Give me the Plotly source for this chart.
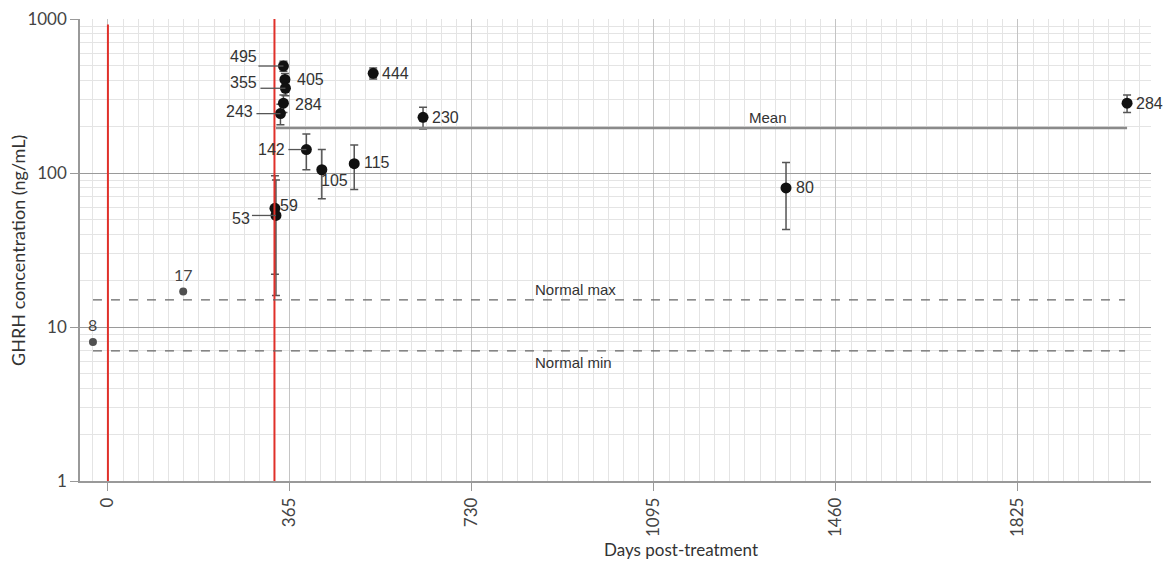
import math
import plotly.graph_objects as go

# ---- data ----
days = [335, 337, 346, 352, 352, 355, 356, 398, 429, 494, 532, 632, 1360, 2044]
ghrh = [59, 53, 243, 284, 495, 405, 355, 142, 105, 115, 444, 230, 80, 284]
ghrh_sd = [37] * len(ghrh)
labels = [str(v) for v in ghrh]

pre_days = [-30, 151]
pre_ghrh = [8, 17]
pre_labels = ["8", "17"]

mean_value = 196
mean_span = [337, 2044]
normal_max = 15
normal_min = 7
normal_span = [-30, 2040]
treatment_days = [0, 334]
treatment_top = [920, 1000]

x_ticks = [0, 365, 730, 1095, 1460, 1825]
y_ticks = [1, 10, 100, 1000]
y_minor = [m * 10 ** e for e in range(3) for m in range(2, 10)]

# ---- style: label offsets (pixels) and leader lines ----
# (xshift, yshift, xanchor, leader length in px or 0)
label_style = {
    0: (3, 3, "left", 0),       # 59
    1: (-24, -3, "right", 24),  # 53
    2: (-25, 2, "right", 24),   # 243
    3: (10, -1, "left", 0),     # 284
    4: (-24, 10, "right", 25),  # 495
    5: (10, 0, "left", 0),      # 405
    6: (-26, 6, "right", 25),   # 355
    7: (-19, 0, "right", 18),   # 142
    8: (-3, -11, "left", 0),    # 105
    9: (8, 1, "left", 0),       # 115
    10: (7, 0, "left", 0),      # 444
    11: (7, 0, "left", 0),      # 230
    12: (8, 0, "left", 0),      # 80
    13: (7, 0, "left", 0),      # 284
}

label_font = dict(family="Liberation Sans, Arial, sans-serif", size=16, color="#333")
small_label_font = dict(family="Liberation Sans, Arial, sans-serif", size=15, color="#333")
tick_font = dict(family="Lato, sans-serif", size=17, color="#444")
pre_font = dict(family="Lato, sans-serif", size=16, color="#444")
ytitle_font = dict(family="Lato, sans-serif", size=18, color="#333")
xtitle_font = dict(family="Lato, sans-serif", size=17, color="#333")

L = math.log10  # annotations on a log axis take log10 positions

fig = go.Figure()

fig.add_trace(go.Scatter(
    x=pre_days, y=pre_ghrh, mode="markers",
    marker=dict(size=8, color="#505050"),
    showlegend=False, hoverinfo="skip",
))

fig.add_trace(go.Scatter(
    x=days, y=ghrh, mode="markers",
    marker=dict(size=11, color="#111"),
    error_y=dict(type="data", array=ghrh_sd, color="#555", thickness=1.5, width=4),
    showlegend=False,
))

shapes = []
for d, top in zip(treatment_days, treatment_top):
    shapes.append(dict(type="line", xref="x", yref="y", x0=d, x1=d, y0=1, y1=top,
                       line=dict(color="#e0302a", width=2), layer="above"))
shapes.append(dict(type="line", xref="x", yref="y", x0=mean_span[0], x1=mean_span[1],
                   y0=mean_value, y1=mean_value, line=dict(color="#8a8a8a", width=2.5)))
for v in (normal_max, normal_min):
    shapes.append(dict(type="line", xref="x", yref="y", x0=normal_span[0], x1=normal_span[1],
                       y0=v, y1=v, line=dict(color="#666", width=1.2, dash="dash")))
for i, (xs, ys, xa, lead) in label_style.items():
    if lead:
        shapes.append(dict(type="line", xref="x", yref="y", xsizemode="pixel",
                           xanchor=days[i], x0=-lead, x1=0, y0=ghrh[i], y1=ghrh[i],
                           line=dict(color="#555", width=1.3)))

annotations = []
for i, (xs, ys, xa, lead) in label_style.items():
    annotations.append(dict(x=days[i], y=L(ghrh[i]), xref="x", yref="y", text=labels[i],
                            showarrow=False, xanchor=xa, yanchor="middle",
                            xshift=xs, yshift=ys, font=label_font))
for d, v, t in zip(pre_days, pre_ghrh, pre_labels):
    annotations.append(dict(x=d, y=L(v), xref="x", yref="y", text=t, showarrow=False,
                            xanchor="center", yanchor="middle", yshift=17, font=pre_font))
annotations.append(dict(x=1324, y=L(mean_value), xref="x", yref="y", text="Mean", showarrow=False,
                        yanchor="bottom", yshift=0, font=small_label_font))
annotations.append(dict(x=937, y=L(normal_max), xref="x", yref="y", text="Normal max", showarrow=False,
                        yanchor="bottom", yshift=0, font=small_label_font))
annotations.append(dict(x=933, y=L(normal_min), xref="x", yref="y", text="Normal min", showarrow=False,
                        yanchor="top", yshift=-1, font=small_label_font))
annotations.append(dict(x=0.561, y=-0.149, xref="paper", yref="paper", text="Days post-treatment",
                        showarrow=False, xanchor="center", yanchor="middle", font=xtitle_font))
annotations.append(dict(x=-0.058, y=0.5, xref="paper", yref="paper", text="GHRH concentration (ng/mL)",
                        showarrow=False, textangle=-90, xanchor="center", yanchor="middle",
                        font=ytitle_font))

fig.update_layout(
    width=1164, height=561,
    margin=dict(l=80, r=13, t=19, b=80),
    paper_bgcolor="white", plot_bgcolor="white",
    shapes=shapes, annotations=annotations,
    xaxis=dict(
        range=[-56, 2092], tickvals=x_ticks, ticktext=[str(t) for t in x_ticks],
        tickangle=-90, tickfont=tick_font,
        showgrid=True, gridcolor="#c4c4c4", gridwidth=1,
        minor=dict(tick0=0, dtick=365 / 12, showgrid=True, gridcolor="#e4e4e4", gridwidth=1),
        showline=True, linecolor="#999", linewidth=1.5,
        ticks="outside", ticklen=8, tickcolor="#999",
        zeroline=False, automargin=False,
    ),
    yaxis=dict(
        type="log", range=[0, 3], tickvals=y_ticks, ticktext=[str(t) for t in y_ticks],
        tickfont=tick_font,
        showgrid=True, gridcolor="#9a9a9a", gridwidth=1.2,
        minor=dict(tickvals=y_minor, showgrid=True, gridcolor="#e4e4e4", gridwidth=1),
        showline=True, linecolor="#999", linewidth=1.5,
        ticks="outside", ticklen=8, tickcolor="#999",
        zeroline=False, automargin=False,
    ),
)

fig.write_html("out.html", config={"displayModeBar": False},
               post_script="document.body.style.margin='0px';")
